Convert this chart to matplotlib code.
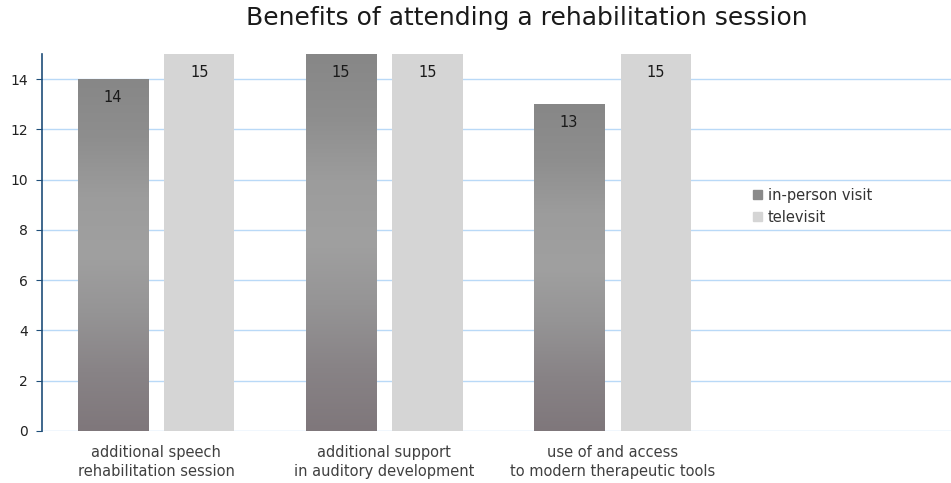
import numpy as np
import matplotlib.pyplot as plt
from matplotlib.colors import LinearSegmentedColormap

categories = ['additional speech\nrehabilitation session',
              'additional support\nin auditory development',
              'use of and access\nto modern therapeutic tools']
in_person = [14, 15, 13]
televisit = [15, 15, 15]

fig = plt.figure(figsize=(9.51, 4.83), dpi=100)
ax = fig.add_axes([42 / 951, 52 / 483, 909 / 951, 377 / 483])

x = np.arange(len(categories))
w = 0.307
off = 0.19

# gradient for the in-person bars
grad = LinearSegmentedColormap.from_list(
    'g', ['#7f777b', '#888386', '#959495', '#a0a0a0', '#9c9c9c', '#8e8e8e', '#878787'])
bars = ax.bar(x - off, in_person, w, color='none', zorder=2, label='in-person visit')
for b in bars:
    x0, y0 = b.get_x(), b.get_y()
    h = b.get_height()
    img = ax.imshow(np.linspace(0, 1, 256).reshape(-1, 1), cmap=grad, origin='lower',
                    extent=[x0, x0 + b.get_width(), y0, y0 + h], aspect='auto', zorder=2)
    img.set_clip_path(b)
ax.bar(x + off, televisit, w, color='#d5d5d5', zorder=2, label='televisit')

for xi, v in zip(x, in_person):
    ax.text(xi - off, v - 0.72, str(v), ha='center', va='center', fontsize=10.5, color='#1a1a1a', zorder=3)
for xi, v in zip(x, televisit):
    ax.text(xi + off, v - 0.72, str(v), ha='center', va='center', fontsize=10.5, color='#1a1a1a', zorder=3)

ax.set_xlim(-0.5, 3.485)
ax.set_ylim(0, 15)
ax.set_yticks(range(0, 15, 2))
ax.set_xticks(x)
ax.set_xticklabels(categories, fontsize=10.5, color='#404040', linespacing=1.35)
ax.tick_params(axis='x', length=0, pad=10)
ax.tick_params(axis='y', length=4, color='#1f4e79', labelsize=10, labelcolor='#222222', pad=6)
ax.grid(axis='y', color='#b9d9f7', linewidth=1, zorder=0)
ax.set_axisbelow(True)
for s in ['top', 'right', 'bottom']:
    ax.spines[s].set_visible(False)
ax.spines['left'].set_color('#1f4e79')
ax.spines['left'].set_linewidth(1.2)

# legend proxies
h1 = plt.Rectangle((0, 0), 1, 1, color='#8a8a8a')
h2 = plt.Rectangle((0, 0), 1, 1, color='#d5d5d5')
ax.legend([h1, h2], ['in-person visit', 'televisit'], loc='center left',
          bbox_to_anchor=(0.778, 0.573), frameon=False,
          fontsize=10.5, handlelength=0.6, handleheight=0.6, handletextpad=0.4,
          labelspacing=0.5, labelcolor='#333333', bbox_transform=fig.transFigure)

fig.text(527 / 951, 1 - 18 / 483, 'Benefits of attending a rehabilitation session',
         ha='center', va='center', fontsize=18, color='#1a1a1a')

fig.savefig('out.png', dpi=100)
